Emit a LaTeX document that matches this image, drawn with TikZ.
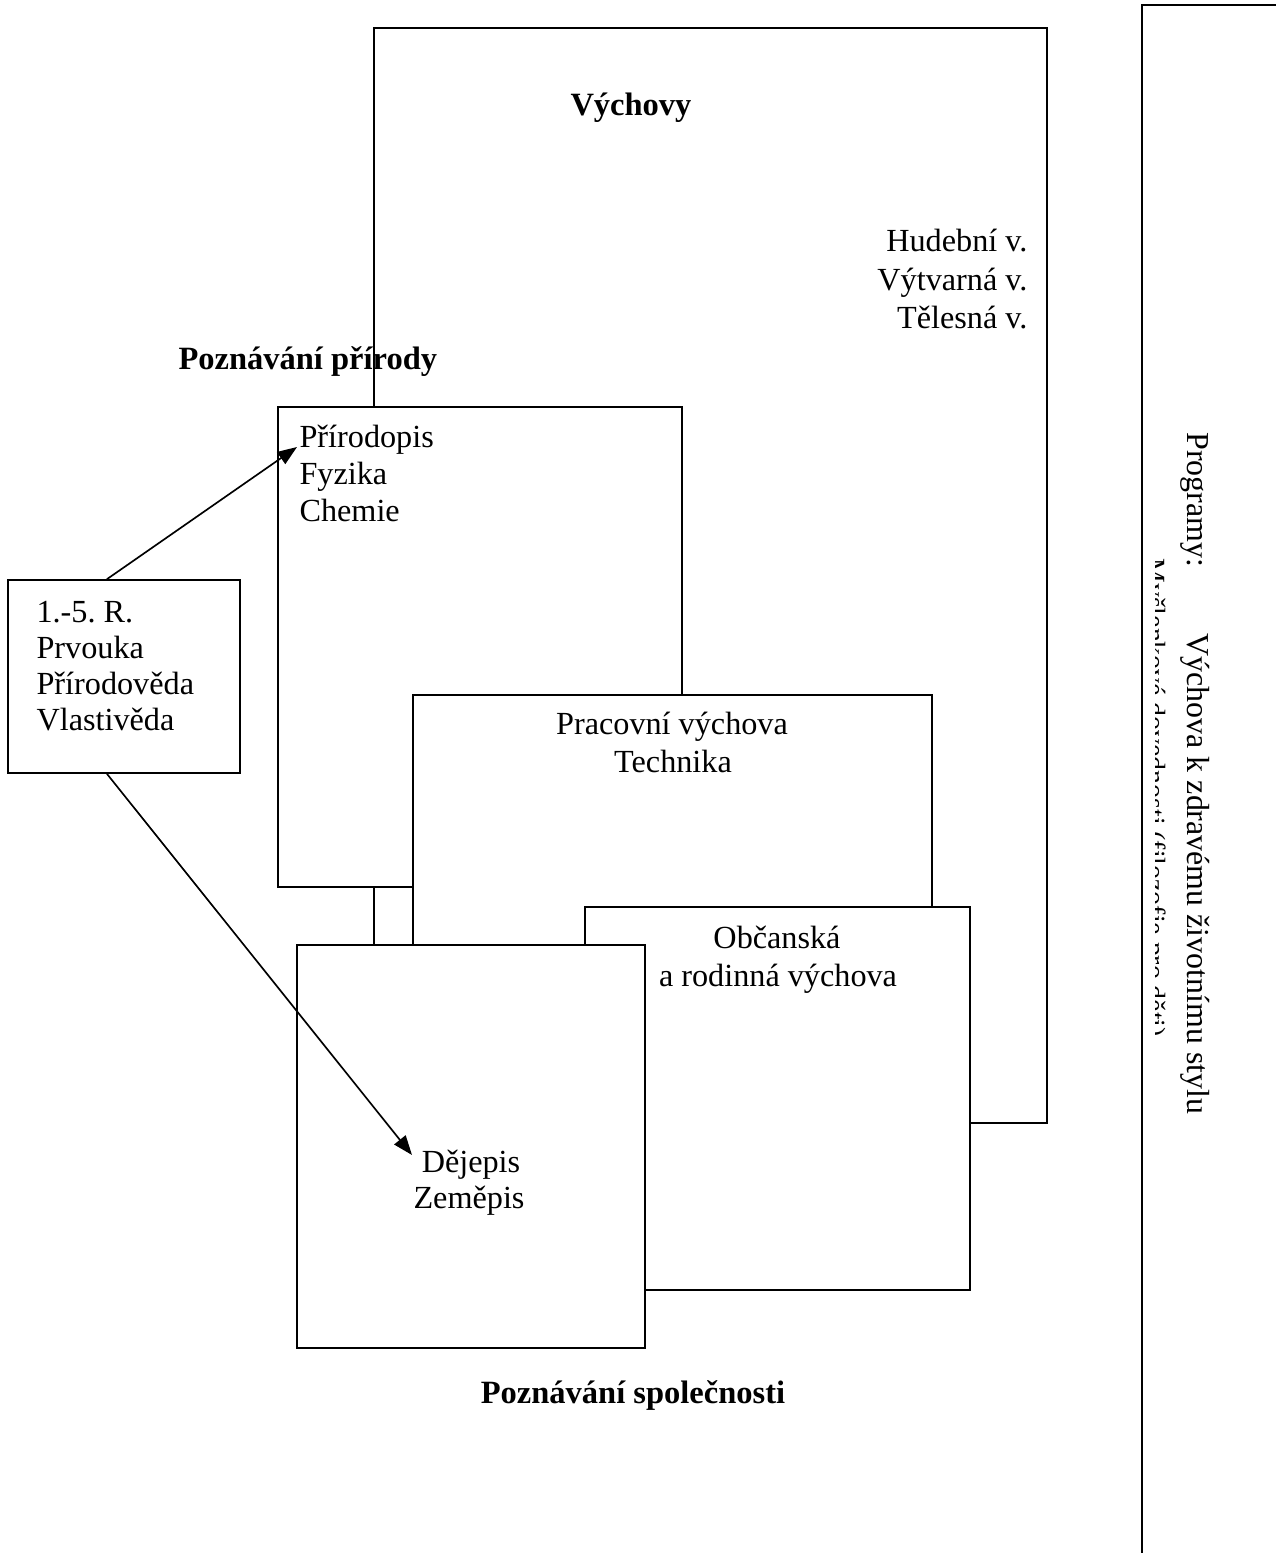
\documentclass[tikz,border=0pt]{standalone}
\usepackage{fontspec}
\setmainfont{Liberation Serif}
\usetikzlibrary{fit,arrows.meta,calc}
\frenchspacing
\begin{document}
\begin{tikzpicture}[x=0.36pt,y=-0.36pt,
  box/.style={draw=black, line width=0.6pt, fill=white, inner sep=0pt},
  lbl/.style={inner sep=0pt, font=\fontsize{11.6}{13.8}\selectfont},
  blbl/.style={inner sep=0pt, font=\fontsize{11.7}{13.8}\selectfont\bfseries},
  rlbl/.style={inner sep=0pt, font=\fontsize{11.5}{13.8}\selectfont, rotate=-90, anchor=base west},
  arr/.style={-{Triangle[length=7pt,width=5.2pt]}, line width=0.6pt}]
\useasboundingbox (0,0) rectangle (1276,1553);
\clip (0,0) rectangle (1276,1553);

% right programme box (extends beyond the page)
\node[box, fit={(1142,5) (1300,1580)}] (prog) {};

% boxes, back to front
\node[box, fit={(374,28) (1047,1123)}] (vy) {};
\node[box, fit={(278,407) (682,887)}] (pr) {};
\node[box, fit={(413,695) (932,1050)}] (pc) {};
\node[box, fit={(585,907) (970,1290)}] (ob) {};
\node[box, fit={(297,945) (645,1348)}] (dz) {};
\node[box, fit={(8,580) (240,773)}] (r15) {};

% texts
\node[blbl, anchor=base] (tvy) at (631,116) {Výchovy};
\node[lbl, anchor=base east] (thu) at (1028,252) {Hudební v.};
\node[lbl, anchor=base east] (tvv) at (1028,291) {Výtvarná v.};
\node[lbl, anchor=base east] (tte) at (1028,329) {Tělesná v.};

\node[blbl, anchor=base west] (tpp) at (178,370) {Poznávání přírody};
\node[lbl, anchor=base west] (tp1) at (299,447) {Přírodopis};
\node[lbl, anchor=base west] (tp2) at (299,484) {Fyzika};
\node[lbl, anchor=base west] (tp3) at (299,521) {Chemie};

\node[lbl, anchor=base west] (tr1) at (36,622) {1.-5. R.};
\node[lbl, anchor=base west] (tr2) at (36,658) {Prvouka};
\node[lbl, anchor=base west] (tr3) at (36,694) {Přírodověda};
\node[lbl, anchor=base west] (tr4) at (36,730) {Vlastivěda};

\node[lbl, anchor=base] (tc1) at (672,734) {Pracovní výchova};
\node[lbl, anchor=base] (tc2) at (673,772) {Technika};

\node[lbl, anchor=base] (to1) at (777,948) {Občanská};
\node[lbl, anchor=base] (to2) at (778,986) {a rodinná výchova};

\node[lbl, anchor=base] (td1) at (471,1172) {Dějepis};
\node[lbl, anchor=base] (td2) at (469,1208) {Zeměpis};

\node[blbl, anchor=base] (tps) at (633,1403) {Poznávání společnosti};

% rotated programme texts
\node[rlbl] (tg1) at (1187,432) {Programy:};
\node[rlbl] (tg2) at (1187,633) {Výchova k zdravému životnímu stylu};
\begin{scope}
  \clip (1155,400) rectangle (1176,1120);
  \node[inner sep=0pt, font=\fontsize{10}{12}\selectfont, rotate=-90, anchor=base west] (tg3) at (1146,558) {Myšlenkové dovednosti (filozofie pro děti)};
\end{scope}

% arrows
\coordinate (a1e) at (297,447);
\coordinate (a2e) at (412,1155);
\draw[arr] ($(r15.north west)!0.427!(r15.north east)$) -- (a1e);
\draw[arr] ($(r15.south west)!0.427!(r15.south east)$) -- (a2e);
\end{tikzpicture}
\end{document}
